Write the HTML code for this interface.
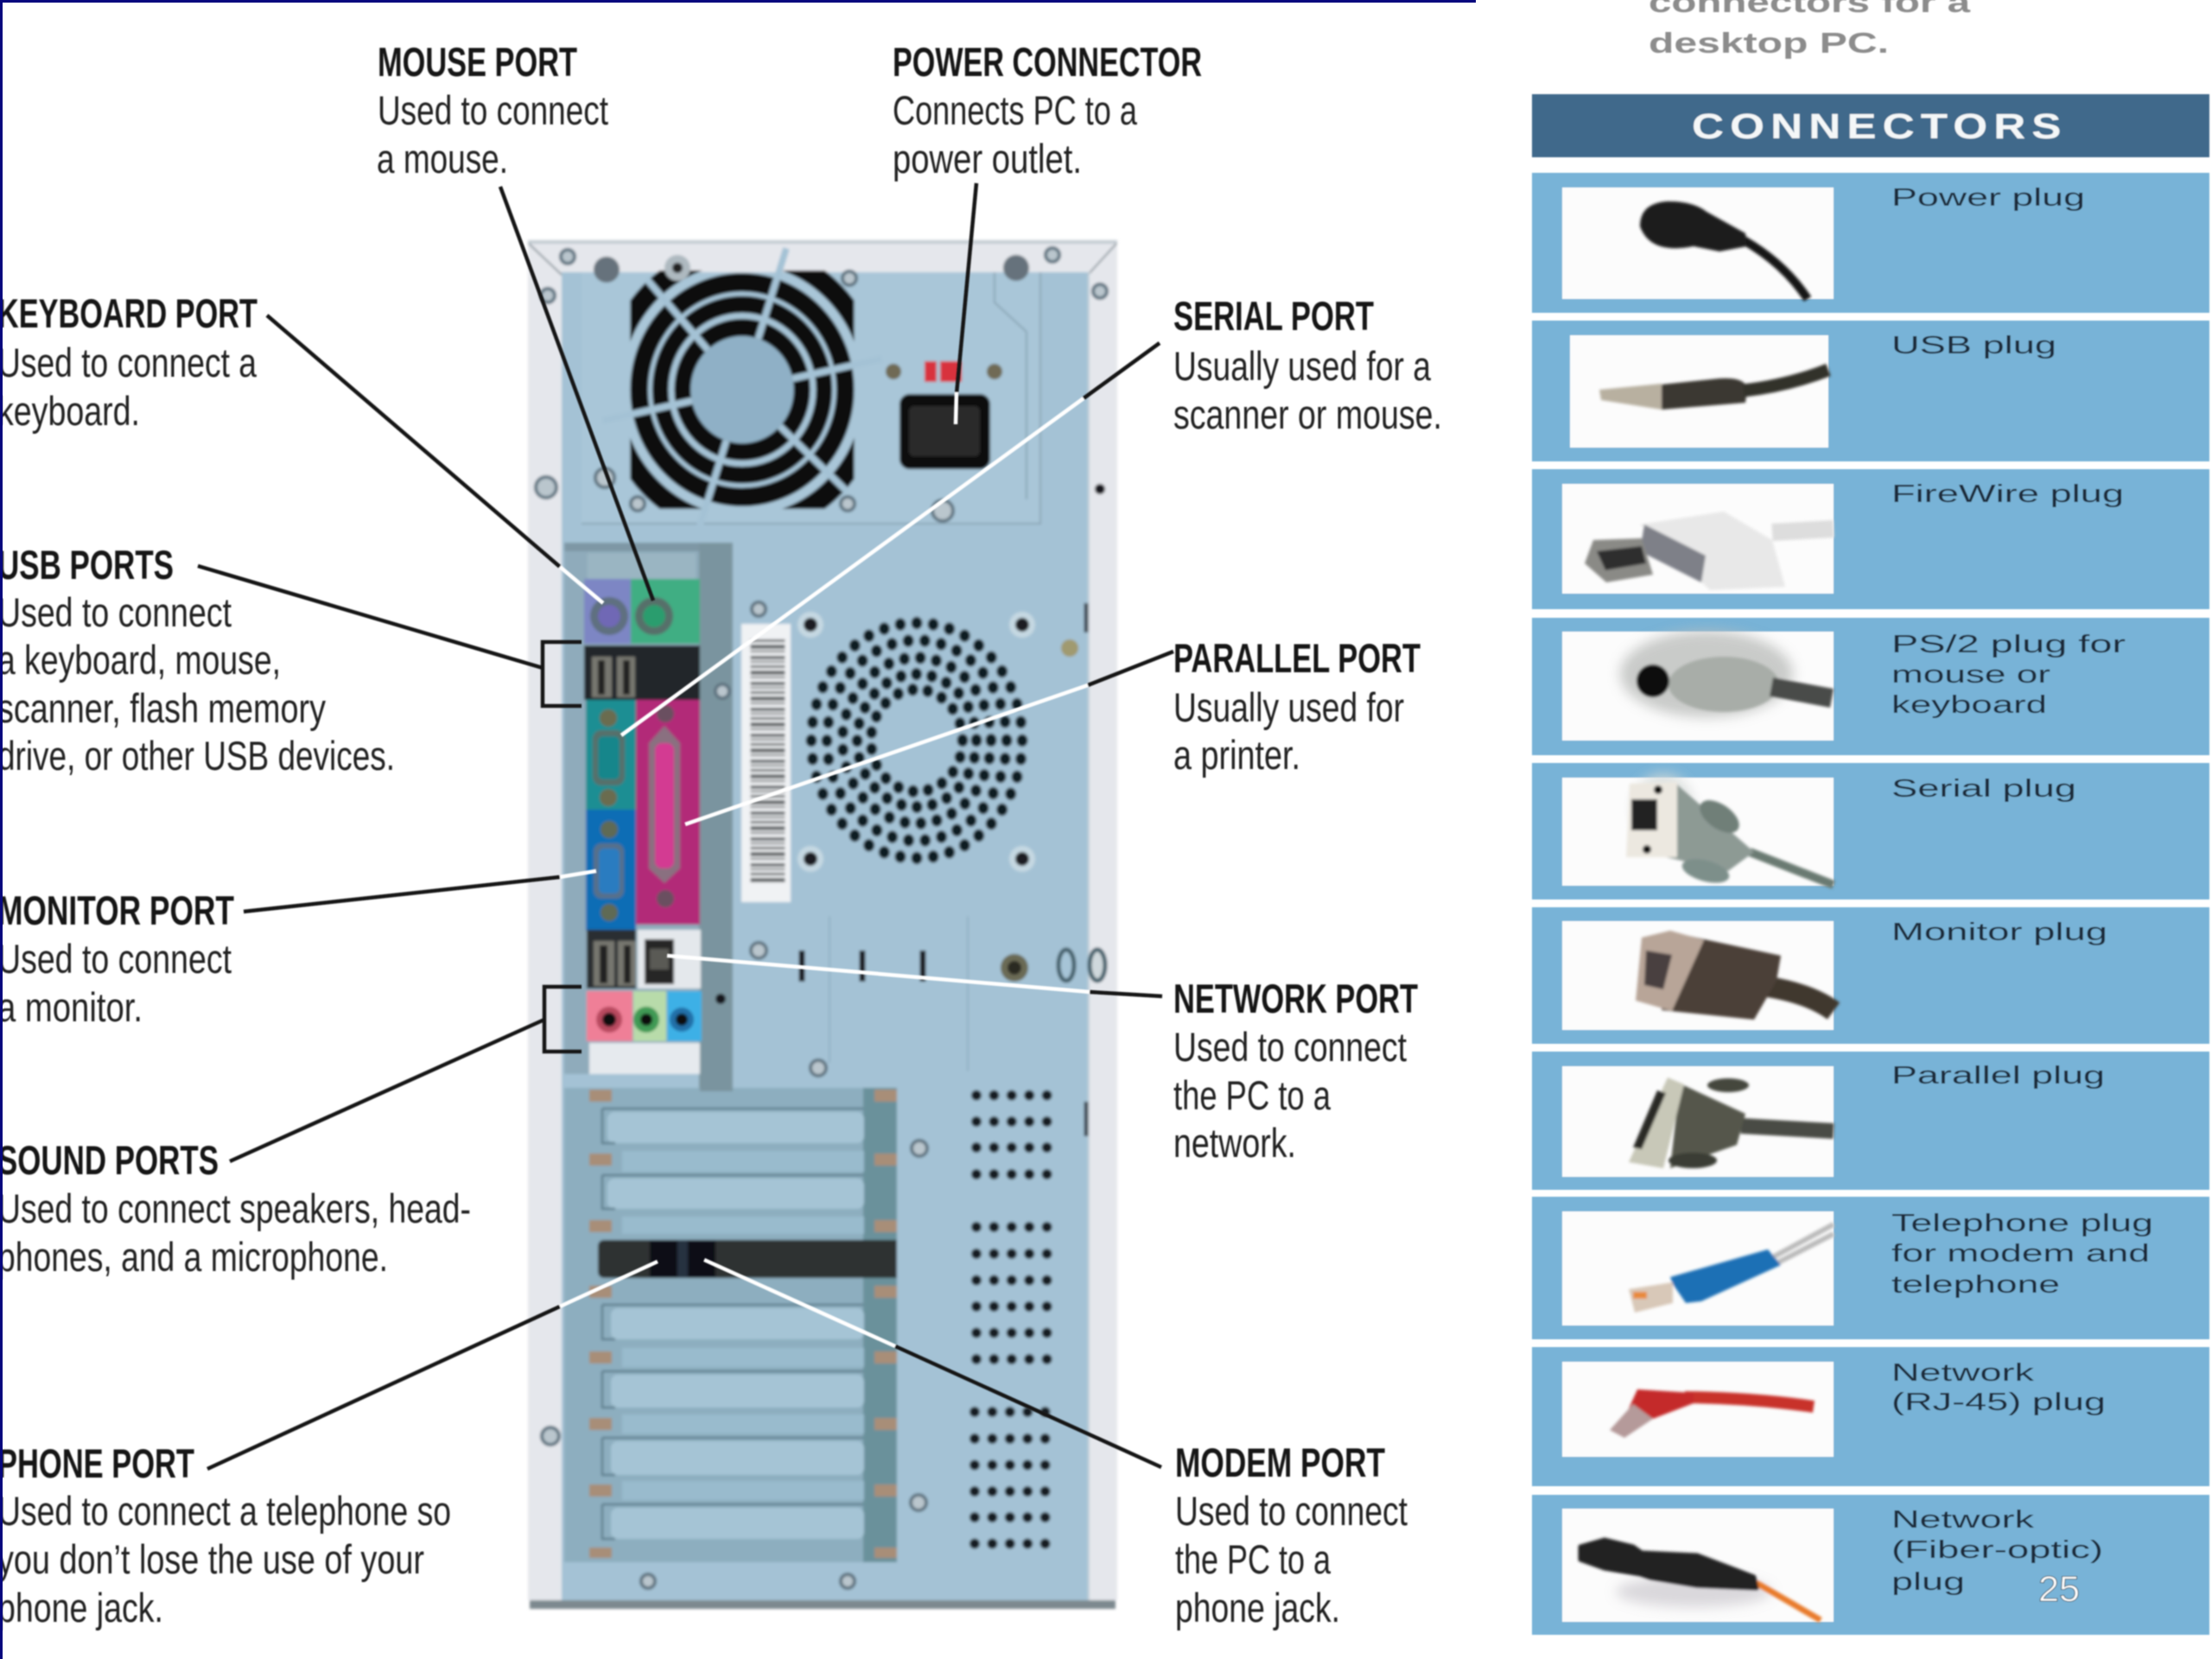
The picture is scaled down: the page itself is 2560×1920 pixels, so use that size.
<!DOCTYPE html>
<html><head><meta charset="utf-8"><title>Ports and connectors</title>
<style>html,body{margin:0;padding:0;background:#fff;width:2560px;height:1920px;overflow:hidden}svg{display:block}
.t{font:bold 47px "Liberation Sans",sans-serif;fill:#161616}
.b{font:47px "Liberation Sans",sans-serif;fill:#222}
.p{font:29px "Liberation Sans",sans-serif;fill:#1b2b3a}
.g{font:bold 33px "Liberation Sans",sans-serif;fill:#8c8c8c}
</style></head><body>
<svg xmlns="http://www.w3.org/2000/svg" width="2560" height="1920" viewBox="0 0 2560 1920">
<defs>
<filter id="f1" filterUnits="userSpaceOnUse" x="0" y="0" width="2560" height="1920"><feGaussianBlur stdDeviation="1.6"/></filter>
<filter id="f2" filterUnits="userSpaceOnUse" x="0" y="0" width="2560" height="1920"><feGaussianBlur stdDeviation="0.9"/></filter>
<filter id="f3" filterUnits="userSpaceOnUse" x="0" y="0" width="2560" height="1920"><feGaussianBlur stdDeviation="7"/></filter>
<clipPath id="fanclip"><rect x="-135" y="-138" width="270" height="276"/></clipPath>
</defs>
<rect width="2560" height="1920" fill="#fff"/>

<!-- PC case -->
<g filter="url(#f1)">
<rect x="613" y="1850" width="678" height="12" fill="#7d898f"/>
<rect x="611" y="280" width="682" height="1572" fill="#e5e7ec"/>
<rect x="611" y="278" width="682" height="4" fill="#c2cbd1"/>
<path d="M650 315H1259V1852H650Z" fill="#a4c2d5"/>
<path d="M612 282L650 318M1292 282L1259 318" stroke="#8b969c" stroke-width="2" fill="none"/>
<rect x="1259" y="315" width="2" height="1537" fill="#c5d2da"/>
<rect x="673" y="315" width="531" height="291" fill="#a9c6d8"/>
<path d="M673 606H1204V315M1151 315V350L1188 384V578" stroke="#8ba6b6" stroke-width="2" fill="none"/>
<!-- fan -->
<g transform="translate(859 451) scale(.96 1)">
<g clip-path="url(#fanclip)"><circle r="158" fill="none" stroke="#111" stroke-width="24"/></g>
<circle r="124" fill="none" stroke="#111" stroke-width="22"/>
<circle r="99" fill="none" stroke="#111" stroke-width="20"/>
<circle r="72" fill="none" stroke="#111" stroke-width="20"/>
<circle r="62" fill="#8fb0c6"/>
<g stroke="#a4c2d5" stroke-width="8">
<path d="M0 -172V-62" transform="rotate(18)"/><path d="M0 -172V-62" transform="rotate(78)"/><path d="M0 -172V-62" transform="rotate(133)"/><path d="M0 -172V-62" transform="rotate(198)"/><path d="M0 -172V-62" transform="rotate(258)"/><path d="M0 -172V-62" transform="rotate(318)"/>
</g>
<g fill="none" stroke="#a4c2d5" stroke-width="5"><circle r="111"/><circle r="86"/></g>
</g>
<!-- power socket -->
<rect x="1070" y="418" width="43" height="24" fill="#d8303c"/>
<rect x="1084" y="418" width="4" height="24" fill="#a8c5d8"/>
<circle cx="1034" cy="430" r="9" fill="#6f6a55"/><circle cx="1151" cy="430" r="9" fill="#6f6a55"/>
<rect x="1041" y="456" width="105" height="87" rx="12" fill="#111"/>
<rect x="1052" y="470" width="82" height="58" rx="6" fill="#2c2c2c"/>
<!-- IO recess -->
<path d="M653 628H848V1262H809V1243H653Z" fill="#8fabbb"/>
<rect x="809" y="628" width="39" height="634" fill="#7a949f"/>
<rect x="653" y="628" width="156" height="10" fill="#7e97a5"/>
<rect x="680" y="640" width="125" height="30" fill="#9ab5c2"/>
<!-- ports -->
<rect x="676" y="670" width="54" height="75" fill="#7d86c4"/>
<rect x="730" y="670" width="80" height="75" fill="#3fae83"/>
<circle cx="705" cy="713" r="22" fill="#5f6f80"/><circle cx="705" cy="713" r="13" fill="#6f68b5"/>
<circle cx="757" cy="713" r="22" fill="#56706a"/><circle cx="757" cy="713" r="13" fill="#2a9d6e"/>
<rect x="676" y="747" width="134" height="63" fill="#24262b"/>
<rect x="685" y="760" width="23" height="47" fill="#77776f"/><rect x="692" y="764" width="8" height="40" fill="#222"/>
<rect x="714" y="760" width="21" height="47" fill="#77776f"/><rect x="721" y="764" width="8" height="40" fill="#222"/>
<rect x="678" y="810" width="58" height="127" fill="#1c8e93"/>
<rect x="686" y="845" width="37" height="64" rx="10" fill="#56706a"/><rect x="692" y="852" width="25" height="50" rx="6" fill="#17868b"/>
<circle cx="704" cy="831" r="10" fill="#6b6c50"/><circle cx="704" cy="923" r="10" fill="#6b6c50"/>
<rect x="736" y="810" width="74" height="260" fill="#b22a78"/>
<path d="M751 860L769 840L787 860V1005L769 1022L751 1005Z" fill="#8a6f80"/>
<rect x="758" y="860" width="22" height="145" rx="8" fill="#d33a92"/>
<circle cx="770" cy="826" r="10" fill="#6b5060"/><circle cx="770" cy="1040" r="10" fill="#6b5060"/>
<rect x="678" y="937" width="58" height="140" fill="#0e6db5"/>
<rect x="687" y="976" width="35" height="64" rx="9" fill="#56708a"/><rect x="693" y="982" width="24" height="52" rx="6" fill="#2a7cc0"/>
<circle cx="705" cy="960" r="10" fill="#5e6a55"/><circle cx="705" cy="1056" r="10" fill="#5e6a55"/>
<rect x="679" y="1076" width="57" height="68" fill="#2a2d33"/>
<rect x="687" y="1089" width="24" height="52" fill="#77776f"/><rect x="694" y="1094" width="9" height="44" fill="#222"/>
<rect x="715" y="1089" width="21" height="52" fill="#77776f"/><rect x="722" y="1094" width="8" height="44" fill="#222"/>
<rect x="738" y="1076" width="73" height="68" fill="#e4e8ec"/>
<rect x="746" y="1087" width="34" height="52" fill="#252525"/><rect x="752" y="1098" width="22" height="24" fill="#5a5a55"/>
<rect x="679" y="1147" width="53" height="58" fill="#ef7f97"/>
<rect x="733" y="1147" width="38" height="58" fill="#b8dbaa"/>
<rect x="772" y="1147" width="40" height="58" fill="#3cb0e6"/>
<circle cx="705" cy="1180" r="15" fill="#b8485f"/><circle cx="705" cy="1180" r="8" fill="#111"/>
<circle cx="748" cy="1180" r="15" fill="#3f9a55"/><circle cx="748" cy="1180" r="7" fill="#111"/>
<circle cx="789" cy="1180" r="14" fill="#2270a8"/><circle cx="789" cy="1180" r="7" fill="#111"/>
<rect x="682" y="1207" width="128" height="36" fill="#e6eaee"/>
<!-- barcode -->
<rect x="858" y="722" width="57" height="322" fill="#f0f2f4"/>
<path d="M888.5 740V1021" stroke="#63676b" stroke-width="40" stroke-dasharray="3 3 5 2 2 4 4 2 2 3" fill="none"/>
<!-- perforated vent -->
<g transform="translate(1061 857) scale(1 1.115)" fill="none" stroke="#111a22" stroke-width="13" stroke-linecap="round">
<circle r="122" pathLength="40" stroke-dasharray="0 1"/>
<circle r="104" pathLength="34" stroke-dasharray="0 1"/>
<circle r="86" pathLength="29" stroke-dasharray="0 1"/>
<circle r="69" pathLength="24" stroke-dasharray="0 1"/>
<circle r="53" pathLength="19" stroke-dasharray="0 1"/>
</g>
<g fill="#c5d8e2"><circle cx="938" cy="723" r="15"/><circle cx="1183" cy="723" r="15"/><circle cx="938" cy="994" r="15"/><circle cx="1183" cy="994" r="15"/></g>
<g fill="#1a1f24"><circle cx="938" cy="723" r="8"/><circle cx="1183" cy="723" r="8"/><circle cx="938" cy="994" r="8"/><circle cx="1183" cy="994" r="8"/></g>
<!-- expansion bay -->
<path d="M653 1259H1022Q1038 1259 1038 1275V1808H653Z" fill="#8daebf"/>
<rect x="999" y="1259" width="39" height="549" fill="#6b919b"/>
<rect x="810" y="1243" width="38" height="20" fill="#7a949f"/>
<g fill="#a5c4d5">
<rect x="703" y="1287" width="297" height="36" rx="8"/><rect x="703" y="1364" width="297" height="35" rx="8"/>
<rect x="707" y="1514" width="293" height="36" rx="8"/><rect x="707" y="1591" width="293" height="38" rx="8"/>
<rect x="707" y="1668" width="293" height="39" rx="8"/><rect x="707" y="1745" width="293" height="36" rx="8"/>
</g>
<g fill="#99bbcd">
<rect x="720" y="1332" width="280" height="24"/><rect x="720" y="1408" width="280" height="20"/><rect x="720" y="1560" width="280" height="22"/><rect x="720" y="1637" width="280" height="22"/><rect x="720" y="1714" width="280" height="22"/>
</g>
<g stroke="#5f7f8e" stroke-width="2.5" fill="none">
<path d="M697 1283V1323H712M697 1283H999"/><path d="M697 1360V1399H712M697 1360H999"/><path d="M697 1510V1550H712M697 1510H999"/><path d="M697 1587V1629H712M697 1587H999"/><path d="M697 1664V1707H712M697 1664H999"/><path d="M697 1741V1781H712M697 1741H999"/>
</g>
<g fill="#a88e78">
<rect x="682" y="1261" width="26" height="14"/><rect x="682" y="1335" width="26" height="14"/><rect x="682" y="1412" width="26" height="14"/><rect x="682" y="1488" width="26" height="14"/><rect x="682" y="1564" width="26" height="14"/><rect x="682" y="1641" width="26" height="14"/><rect x="682" y="1718" width="26" height="14"/><rect x="682" y="1791" width="26" height="12"/>
<rect x="1012" y="1261" width="26" height="14"/><rect x="1012" y="1335" width="26" height="14"/><rect x="1012" y="1412" width="26" height="14"/><rect x="1012" y="1488" width="26" height="14"/><rect x="1012" y="1564" width="26" height="14"/><rect x="1012" y="1641" width="26" height="14"/><rect x="1012" y="1718" width="26" height="14"/><rect x="1012" y="1791" width="26" height="12"/>
</g>
<path d="M700 1435H1038V1479H700Q692 1479 692 1471V1443Q692 1435 700 1435Z" fill="#2d3033"/>
<rect x="752" y="1435" width="32" height="44" fill="#0d0f12"/><rect x="796" y="1435" width="32" height="44" fill="#0d0f12"/>
<rect x="784" y="1435" width="12" height="44" fill="#253240"/>
<!-- side vents -->
<path d="M1130 1267.6H1212M1130 1298H1212M1130 1328H1212M1130 1359H1212M1130 1420H1212M1130 1451H1212M1130 1481.6H1212M1130 1512H1212M1130 1542.5H1212M1130 1573H1212M1128 1634H1210M1128 1665H1210M1128 1695.5H1210M1128 1726H1210M1128 1756H1210M1128 1786.5H1210" stroke="#151c23" stroke-width="12" stroke-linecap="round" stroke-dasharray="0 20.4" fill="none"/>
<!-- punched marks & knobs -->
<path d="M928 1100V1136M998 1100V1136M1068 1100V1136" stroke="#15191c" stroke-width="7"/>
<path d="M1120 1060V1240M960 1060V1230" stroke="#93b0c2" stroke-width="2" fill="none"/>
<path d="M1257 698V732M1257 1275V1315" stroke="#3c4a52" stroke-width="5"/>
<circle cx="1174" cy="1120" r="16" fill="#6b6a55"/><circle cx="1174" cy="1120" r="8" fill="#2b2a22"/>
<ellipse cx="1234" cy="1117" rx="9" ry="18" fill="#a6c4d7" stroke="#45606c" stroke-width="5"/>
<ellipse cx="1270" cy="1117" rx="9" ry="18" fill="#cfd8dc" stroke="#45606c" stroke-width="5"/>
<!-- screws -->
<g fill="#bac6cd" stroke="#5f7380" stroke-width="4">
<circle cx="657" cy="297" r="8"/><circle cx="1218" cy="295" r="8"/><circle cx="1273" cy="337" r="8"/><circle cx="634" cy="342" r="8"/><circle cx="632" cy="564" r="12"/><circle cx="1091" cy="591" r="12"/><circle cx="878" cy="705" r="8"/><circle cx="836" cy="800" r="8"/><circle cx="983" cy="322" r="8"/><circle cx="700" cy="553" r="11"/><circle cx="738" cy="583" r="8"/><circle cx="981" cy="583" r="8"/><circle cx="878" cy="1100" r="9"/><circle cx="947" cy="1236" r="9"/><circle cx="1064" cy="1329" r="9"/><circle cx="1063" cy="1739" r="9"/><circle cx="637" cy="1662" r="10"/><circle cx="750" cy="1830" r="8"/><circle cx="981" cy="1830" r="8"/>
</g>
<circle cx="702" cy="312" r="15" fill="#66727c"/><circle cx="1176" cy="310" r="15" fill="#66727c"/><circle cx="784" cy="310" r="15" fill="#aeb9c0"/>
<circle cx="1238" cy="750" r="10" fill="#a09a70"/>
<circle cx="1273" cy="566" r="6" fill="#15191c"/><circle cx="834" cy="1156" r="6" fill="#15191c"/><circle cx="784" cy="310" r="6" fill="#222"/>
</g>

<!-- Connector lines -->
<g filter="url(#f2)" fill="none" stroke-width="4.5">
<g stroke="#141414">
<path d="M579 216L756 695"/>
<path d="M1130 212L1107 456"/>
<path d="M309 365L648 656"/>
<path d="M1342 397L1254 461"/>
<path d="M1358 754L1259 793"/>
<path d="M229 655L628 773"/>
<path d="M673 743H628V817H673"/>
<path d="M282 1055L648 1015"/>
<path d="M266 1344L630 1180"/>
<path d="M673 1142H630V1217H673"/>
<path d="M240 1700L648 1512"/>
<path d="M1344 1698L1036 1558"/>
<path d="M1345 1153L1261 1148"/>
</g>
<g stroke="#fff">
<path d="M1107 454L1106 491"/>
<path d="M648 656L698 698"/>
<path d="M1254 461L719 851"/>
<path d="M1259 793L793 954"/>
<path d="M648 1015L690 1008"/>
<path d="M648 1512L761 1460"/>
<path d="M1036 1558L815 1458"/>
<path d="M1261 1148L772 1106"/>
</g>
</g>

<!-- Callout text -->
<g filter="url(#f2)">
<text class="t" x="437" y="88" textLength="231" lengthAdjust="spacingAndGlyphs">MOUSE PORT</text>
<text class="b" x="437" y="144" textLength="267" lengthAdjust="spacingAndGlyphs">Used to connect</text>
<text class="b" x="436" y="200" textLength="152" lengthAdjust="spacingAndGlyphs">a mouse.</text>
<text class="t" x="1033" y="88" textLength="358" lengthAdjust="spacingAndGlyphs">POWER CONNECTOR</text>
<text class="b" x="1033" y="144" textLength="283" lengthAdjust="spacingAndGlyphs">Connects PC to a</text>
<text class="b" x="1033" y="200" textLength="219" lengthAdjust="spacingAndGlyphs">power outlet.</text>
<text class="t" x="-3" y="379" textLength="301" lengthAdjust="spacingAndGlyphs">KEYBOARD PORT</text>
<text class="b" x="-3" y="436" textLength="300" lengthAdjust="spacingAndGlyphs">Used to connect a</text>
<text class="b" x="-3" y="492" textLength="165" lengthAdjust="spacingAndGlyphs">keyboard.</text>
<text class="t" x="1358" y="382" textLength="232" lengthAdjust="spacingAndGlyphs">SERIAL PORT</text>
<text class="b" x="1358" y="440" textLength="298" lengthAdjust="spacingAndGlyphs">Usually used for a</text>
<text class="b" x="1358" y="496" textLength="311" lengthAdjust="spacingAndGlyphs">scanner or mouse.</text>
<text class="t" x="-3" y="670" textLength="204" lengthAdjust="spacingAndGlyphs">USB PORTS</text>
<text class="b" x="-3" y="725" textLength="271" lengthAdjust="spacingAndGlyphs">Used to connect</text>
<text class="b" x="-3" y="780" textLength="328" lengthAdjust="spacingAndGlyphs">a keyboard, mouse,</text>
<text class="b" x="-3" y="836" textLength="380" lengthAdjust="spacingAndGlyphs">scanner, flash memory</text>
<text class="b" x="-3" y="891" textLength="460" lengthAdjust="spacingAndGlyphs">drive, or other USB devices.</text>
<text class="t" x="-3" y="1070" textLength="274" lengthAdjust="spacingAndGlyphs">MONITOR PORT</text>
<text class="b" x="-3" y="1126" textLength="271" lengthAdjust="spacingAndGlyphs">Used to connect</text>
<text class="b" x="-3" y="1182" textLength="168" lengthAdjust="spacingAndGlyphs">a monitor.</text>
<text class="t" x="-3" y="1359" textLength="256" lengthAdjust="spacingAndGlyphs">SOUND PORTS</text>
<text class="b" x="-3" y="1415" textLength="548" lengthAdjust="spacingAndGlyphs">Used to connect speakers, head-</text>
<text class="b" x="-3" y="1471" textLength="452" lengthAdjust="spacingAndGlyphs">phones, and a microphone.</text>
<text class="t" x="-3" y="1710" textLength="228" lengthAdjust="spacingAndGlyphs">PHONE PORT</text>
<text class="b" x="-3" y="1765" textLength="525" lengthAdjust="spacingAndGlyphs">Used to connect a telephone so</text>
<text class="b" x="-3" y="1821" textLength="494" lengthAdjust="spacingAndGlyphs">you don’t lose the use of your</text>
<text class="b" x="-3" y="1877" textLength="192" lengthAdjust="spacingAndGlyphs">phone jack.</text>
<text class="t" x="1358" y="778" textLength="286" lengthAdjust="spacingAndGlyphs">PARALLEL PORT</text>
<text class="b" x="1358" y="835" textLength="267" lengthAdjust="spacingAndGlyphs">Usually used for</text>
<text class="b" x="1358" y="890" textLength="147" lengthAdjust="spacingAndGlyphs">a printer.</text>
<text class="t" x="1358" y="1172" textLength="283" lengthAdjust="spacingAndGlyphs">NETWORK PORT</text>
<text class="b" x="1358" y="1228" textLength="270" lengthAdjust="spacingAndGlyphs">Used to connect</text>
<text class="b" x="1358" y="1284" textLength="182" lengthAdjust="spacingAndGlyphs">the PC to a</text>
<text class="b" x="1358" y="1339" textLength="142" lengthAdjust="spacingAndGlyphs">network.</text>
<text class="t" x="1360" y="1709" textLength="243" lengthAdjust="spacingAndGlyphs">MODEM PORT</text>
<text class="b" x="1360" y="1765" textLength="269" lengthAdjust="spacingAndGlyphs">Used to connect</text>
<text class="b" x="1360" y="1821" textLength="180" lengthAdjust="spacingAndGlyphs">the PC to a</text>
<text class="b" x="1360" y="1877" textLength="191" lengthAdjust="spacingAndGlyphs">phone jack.</text>
</g>

<!-- Right panel -->
<g filter="url(#f2)">
<text class="g" x="1908" y="14" textLength="372" lengthAdjust="spacingAndGlyphs">connectors for a</text>
<text class="g" x="1908" y="61" textLength="278" lengthAdjust="spacingAndGlyphs">desktop PC.</text>
<rect x="1773" y="109" width="784" height="73" fill="#41698b"/>
<text transform="translate(1958 160) scale(1.25 1)" x="0" y="0" textLength="342" lengthAdjust="spacing" font-family="Liberation Sans, sans-serif" font-weight="bold" font-size="41" fill="#f4f7f8">CONNECTORS</text>
<g fill="#78b3d7">
<rect x="1773" y="200" width="784" height="162"/><rect x="1773" y="371" width="784" height="163"/><rect x="1773" y="543" width="784" height="162"/><rect x="1773" y="715" width="784" height="159"/><rect x="1773" y="883" width="784" height="158"/><rect x="1773" y="1050" width="784" height="158"/><rect x="1773" y="1217" width="784" height="160"/><rect x="1773" y="1385" width="784" height="165"/><rect x="1773" y="1559" width="784" height="161"/><rect x="1773" y="1730" width="784" height="162"/>
</g>
<g fill="#fcfcfc">
<rect x="1808" y="217" width="314" height="129"/><rect x="1817" y="388" width="299" height="130"/><rect x="1808" y="560" width="314" height="127"/><rect x="1808" y="731" width="314" height="126"/><rect x="1808" y="900" width="314" height="125"/><rect x="1808" y="1066" width="314" height="126"/><rect x="1808" y="1234" width="314" height="128"/><rect x="1808" y="1402" width="314" height="132"/><rect x="1808" y="1576" width="314" height="110"/><rect x="1808" y="1746" width="314" height="131"/>
</g>
<g>
<text class="p" x="2189" y="238" textLength="224" lengthAdjust="spacingAndGlyphs">Power plug</text>
<text class="p" x="2189" y="409" textLength="191" lengthAdjust="spacingAndGlyphs">USB plug</text>
<text class="p" x="2189" y="581" textLength="269" lengthAdjust="spacingAndGlyphs">FireWire plug</text>
<text class="p" x="2189" y="755" textLength="271" lengthAdjust="spacingAndGlyphs">PS/2 plug for</text>
<text class="p" x="2189" y="790" textLength="184" lengthAdjust="spacingAndGlyphs">mouse or</text>
<text class="p" x="2189" y="825" textLength="180" lengthAdjust="spacingAndGlyphs">keyboard</text>
<text class="p" x="2189" y="922" textLength="214" lengthAdjust="spacingAndGlyphs">Serial plug</text>
<text class="p" x="2189" y="1088" textLength="250" lengthAdjust="spacingAndGlyphs">Monitor plug</text>
<text class="p" x="2189" y="1254" textLength="247" lengthAdjust="spacingAndGlyphs">Parallel plug</text>
<text class="p" x="2189" y="1425" textLength="303" lengthAdjust="spacingAndGlyphs">Telephone plug</text>
<text class="p" x="2189" y="1460" textLength="299" lengthAdjust="spacingAndGlyphs">for modem and</text>
<text class="p" x="2189" y="1496" textLength="195" lengthAdjust="spacingAndGlyphs">telephone</text>
<text class="p" x="2189" y="1598" textLength="165" lengthAdjust="spacingAndGlyphs">Network</text>
<text class="p" x="2189" y="1632" textLength="248" lengthAdjust="spacingAndGlyphs">(RJ-45) plug</text>
<text class="p" x="2189" y="1768" textLength="165" lengthAdjust="spacingAndGlyphs">Network</text>
<text class="p" x="2189" y="1803" textLength="245" lengthAdjust="spacingAndGlyphs">(Fiber-optic)</text>
<text class="p" x="2189" y="1840" textLength="85" lengthAdjust="spacingAndGlyphs">plug</text>
</g>
<text x="2359" y="1853" textLength="48" lengthAdjust="spacingAndGlyphs" font-family="Liberation Sans, sans-serif" font-size="42" fill="#fff" stroke="#2b3a46" stroke-width=".8">25</text>
</g>

<!-- Plug photos -->
<g filter="url(#f1)">
<!-- Power -->
<path d="M2018 278Q2065 305 2092 346" stroke="#141414" stroke-width="10" fill="none"/>
<path d="M1898 262Q1898 235 1930 233Q1960 233 1975 245L2020 270L2022 285L1990 291L1960 285Q1910 295 1898 262Z" fill="#1a1a1a"/>
<!-- USB -->
<path d="M1851 451L1923 444V474L1853 463Z" fill="#b8b0a0"/>
<path d="M1923 445L1990 438Q2020 436 2022 450L2020 466L1923 474Z" fill="#3a3830"/>
<path d="M2018 452Q2070 446 2116 428" stroke="#33322c" stroke-width="15" fill="none"/>
<!-- FireWire -->
<path d="M2051 616L2122 612" stroke="#ddd" stroke-width="20" fill="none"/>
<path d="M1898 607L1995 592L2051 625L2066 679L1979 683Z" fill="#e8e8e8"/>
<path d="M1903 607L1974 643L1969 674L1898 638Z" fill="#7e8088"/>
<path d="M1844 625L1900 623L1913 665L1859 674L1834 652Z" fill="#8a8a86"/>
<path d="M1848 638L1900 632L1905 652L1858 660Z" fill="#2f2f2f"/>
<!-- PS/2 -->
<ellipse cx="1975" cy="780" rx="100" ry="50" fill="#bcbebc" opacity=".8" filter="url(#f3)"/>
<ellipse cx="1995" cy="792" rx="64" ry="32" fill="#a8ada8"/>
<path d="M2050 795L2120 808" stroke="#4a4c4a" stroke-width="22" fill="none"/>
<circle cx="1913" cy="788" r="19" fill="#101010"/>
<!-- Serial -->
<ellipse cx="1925" cy="935" rx="35" ry="40" fill="#d5dad8" opacity=".8" filter="url(#f3)"/>
<path d="M2025 986L2122 1024" stroke="#6b7a72" stroke-width="10" fill="none"/>
<path d="M1941 908L2030 986L2000 1008L1928 992Z" fill="#8d9a94"/>
<ellipse cx="1990" cy="945" rx="26" ry="14" fill="#6f7f78" transform="rotate(35 1990 945)"/>
<ellipse cx="1974" cy="1008" rx="28" ry="12" fill="#7d8f8a" transform="rotate(15 1974 1008)"/>
<path d="M1886 907L1941 905L1941 992L1882 992Z" fill="#ece8e0"/>
<rect x="1888" y="925" width="30" height="36" fill="#222"/>
<circle cx="1919" cy="914" r="5" fill="#111"/><circle cx="1906" cy="983" r="5" fill="#111"/>
<!-- Monitor -->
<path d="M2046 1142Q2095 1150 2122 1170" stroke="#3f372f" stroke-width="24" fill="none"/>
<path d="M1935 1079L2061 1106L2056 1135L2030 1180L1923 1169Z" fill="#4b4038"/>
<path d="M1900 1085L1933 1077L1972 1088L1935 1170L1893 1158Z" fill="#b8a598"/>
<path d="M1905 1100L1935 1105L1925 1145L1903 1140Z" fill="#4a3f3f"/>
<!-- Parallel -->
<path d="M2015 1303L2122 1309" stroke="#4a4c44" stroke-width="18" fill="none"/>
<path d="M1944 1254L2020 1289L2010 1325L1933 1352Z" fill="#55564c"/>
<ellipse cx="2000" cy="1256" rx="24" ry="8" fill="#45463e"/><ellipse cx="1959" cy="1343" rx="28" ry="9" fill="#3b3c35"/>
<path d="M1930 1247L1949 1255L1925 1352L1885 1345Z" fill="#c8c8b8"/>
<path d="M1918 1262L1928 1265L1900 1330L1890 1328Z" fill="#2c2c28"/>
<!-- Telephone -->
<path d="M2050 1456L2122 1417M2056 1462L2122 1428" stroke="#bbb" stroke-width="6" fill="none"/>
<path d="M1885 1492L1936 1484L1936 1508L1892 1519Z" fill="#d8c8b8"/>
<rect x="1890" y="1495" width="16" height="8" fill="#e88a3a"/>
<path d="M1933 1478L2046 1446L2061 1464L1969 1506L1951 1508L1936 1486Z" fill="#1a6fb5"/>
<!-- RJ-45 -->
<path d="M1950 1617Q2030 1618 2099 1628" stroke="#c8302a" stroke-width="14" fill="none"/>
<path d="M1895 1608L1960 1612L1960 1624L1913 1642L1885 1630Z" fill="#c42c2a"/>
<path d="M1890 1625L1913 1642L1880 1664L1863 1655Z" fill="#b59a9a"/>
<!-- Fiber -->
<ellipse cx="1960" cy="1842" rx="90" ry="18" fill="#b8b4bc" opacity=".5" filter="url(#f3)"/>
<path d="M2033 1832L2107 1875" stroke="#e87a2a" stroke-width="7" fill="none"/>
<path d="M1829 1790L1857 1782L1890 1790L1900 1797L1964 1800L2030 1825L2033 1838L1964 1835L1910 1826L1898 1822L1857 1815L1829 1805Z" fill="#222" stroke="#222" stroke-width="5" stroke-linejoin="round"/>
</g>

<!-- Slide border -->
<rect x="0" y="0" width="1708" height="3" fill="#07077e"/>
<rect x="0" y="0" width="3" height="1920" fill="#07077e"/>
</svg>
</body></html>
